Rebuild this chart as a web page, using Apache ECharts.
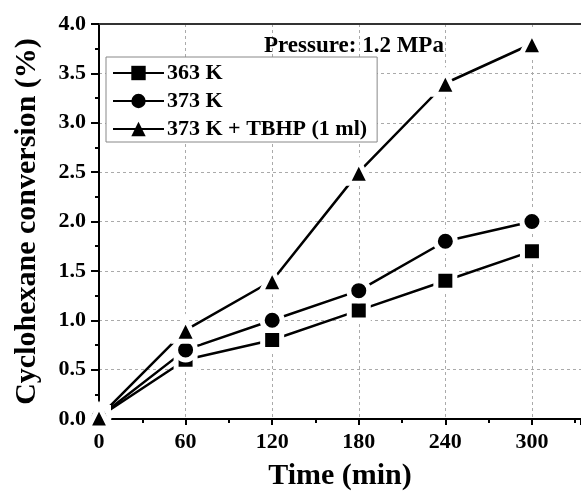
<!DOCTYPE html>
<html>
<head>
<meta charset="utf-8">
<script src="https://cdn.jsdelivr.net/npm/echarts@6/dist/echarts.min.js"></script>
<style>
  html, body { margin: 0; padding: 0; background: #fff; }
  #chart { width: 581px; height: 496px; }
</style>
</head>
<body>
<div id="chart"></div>
<script>
// time points (min)
var times = [0, 60, 120, 180, 240, 300];
var conv363 = [0.02, 0.6, 0.8, 1.1, 1.4, 1.7];
var conv373 = [0.02, 0.7, 1.0, 1.3, 1.8, 2.0];
var conv373tbhp = [0.02, 0.9, 1.4, 2.5, 3.4, 3.8];
var seriesNames = ['363 K', '373 K', '373 K + TBHP (1 ml)'];

var myChart = echarts.init(document.getElementById('chart'));
var font = '"Liberation Serif", "Times New Roman", serif';

const pairs = (ys) => times.map((t, i) => [t, ys[i]]);

// white marker outline gives the small line gap seen around each point
const mkSeries = (name, ys, symbol, size) => ({
    name: name,
    type: 'line',
    data: pairs(ys),
    symbol: symbol,
    symbolSize: size,
    lineStyle: { color: '#000', width: 2.5 },
    itemStyle: { color: '#000', borderColor: '#fff', borderWidth: 5 },
    emphasis: { disabled: true },
    z: 3
});

const option = {
    animation: false,
    grid: { left: 99, top: 24, right: 0, bottom: 75 },
    title: {
        text: 'Pressure: 1.2 MPa',
        left: 259, top: 30,
        textStyle: { fontFamily: font, fontWeight: 'bold', fontSize: 23, color: '#000' }
    },
    legend: {
        orient: 'vertical',
        left: 106, top: 57,
        padding: [5, 10, 2, 6],
        itemGap: 6,
        itemWidth: 51, itemHeight: 18,
        borderColor: '#888', borderWidth: 1,
        backgroundColor: '#fff',
        itemStyle: { borderWidth: 0 },
        textStyle: { fontFamily: font, fontWeight: 'bold', fontSize: 22, color: '#000', padding: [0, 0, 0, -2] },
        data: seriesNames
    },
    xAxis: [{
        type: 'value',
        min: 0, max: 334,
        interval: 60,
        name: 'Time (min)',
        nameLocation: 'middle',
        nameGap: 42,
        nameTextStyle: { fontFamily: font, fontWeight: 'bold', fontSize: 30, color: '#000' },
        axisLine: { lineStyle: { color: '#000', width: 2 } },
        axisTick: { show: true, length: 6, lineStyle: { color: '#000', width: 2 } },
        minorTick: { show: true, splitNumber: 2, length: 4, lineStyle: { color: '#000', width: 2 } },
        axisLabel: {
            showMaxLabel: false, margin: 12,
            fontFamily: font, fontWeight: 'bold', fontSize: 22, color: '#000'
        },
        splitLine: { show: true, lineStyle: { color: '#aaa', type: [3, 3], width: 1 } }
    }, {
        type: 'value',
        position: 'top',
        min: 0, max: 334,
        axisLine: { show: true, onZero: false, lineStyle: { color: '#333', width: 2 } },
        axisTick: { show: false },
        axisLabel: { show: false },
        splitLine: { show: false }
    }],
    yAxis: {
        type: 'value',
        min: 0, max: 4,
        interval: 0.5,
        name: 'Cyclohexane conversion (%)',
        nameLocation: 'middle',
        nameGap: 57,
        nameTextStyle: { fontFamily: font, fontWeight: 'bold', fontSize: 30, color: '#000' },
        axisLine: { show: true, lineStyle: { color: '#000', width: 2 } },
        axisTick: { show: true, length: 8, lineStyle: { color: '#000', width: 2 } },
        minorTick: { show: true, splitNumber: 2, length: 4, lineStyle: { color: '#000', width: 2 } },
        axisLabel: {
            margin: 13,
            formatter: (v) => v.toFixed(1),
            fontFamily: font, fontWeight: 'bold', fontSize: 22, color: '#000'
        },
        splitLine: { show: true, lineStyle: { color: '#aaa', type: [3, 3], width: 1 } }
    },
    series: [
        mkSeries(seriesNames[0], conv363, 'rect', 19),
        mkSeries(seriesNames[1], conv373, 'circle', 20),
        mkSeries(seriesNames[2], conv373tbhp, 'triangle', 22)
    ]
};

myChart.setOption(option);
</script>
</body>
</html>
